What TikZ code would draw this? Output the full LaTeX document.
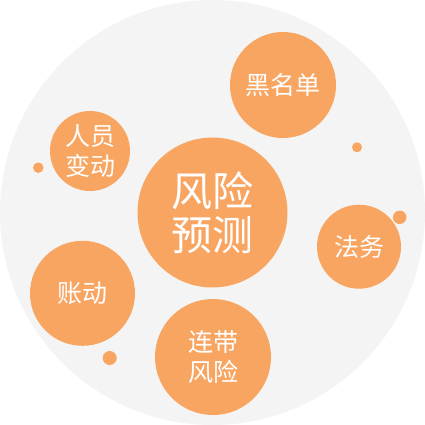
\documentclass[tikz,border=0pt]{standalone}
\usepackage{fontspec}
\newfontfamily\cjk{Noto Sans CJK SC}
\definecolor{bgc}{HTML}{F4F4F4}
\definecolor{org}{HTML}{F8A562}
\begin{document}
\begin{tikzpicture}[x=1pt,y=-1pt,
  bubble/.style={circle,fill=org,inner sep=0pt,text=white,align=center,font=\cjk\fontsize{25}{30}\selectfont},
  bigbubble/.style={bubble,font=\cjk\fontsize{41}{44}\selectfont},
  dot/.style={circle,fill=org,inner sep=0pt}]
\useasboundingbox (0,0) rectangle (425,425);
\fill[bgc] (212.5,212.5) circle (212.5);
\node[bigbubble,minimum size=150pt] (main) at (212.5,212.5) {风险\\预测};
\node[bubble,minimum size=106pt] (black) at (283,85) {黑名单};
\node[bubble,minimum size=80pt] (staff) at (90,151) {人员\\变动};
\node[bubble,minimum size=84pt] (law) at (359,246.7) {法务};
\node[bubble,minimum size=105pt] (acct) at (82.5,293.3) {账动};
\node[bubble,minimum size=116pt] (joint) at (213,357) {连带\\风险};
\node[dot,minimum size=10.5pt] (d1) at (38.3,167.7) {};
\node[dot,minimum size=10pt] (d2) at (357,147.3) {};
\node[dot,minimum size=13.5pt] (d3) at (399.7,217.3) {};
\node[dot,minimum size=14pt] (d4) at (109.7,358) {};
\end{tikzpicture}
\end{document}
